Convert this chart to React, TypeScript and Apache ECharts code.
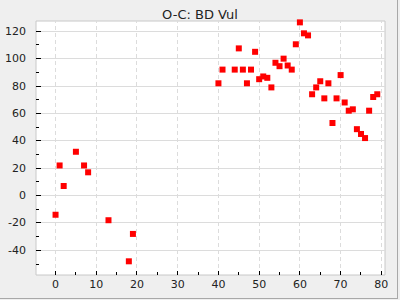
import React, { useEffect, useRef } from "react";
import * as echarts from "echarts";

const xValues = [0, 1, 2, 5, 7, 8, 13, 18, 19, 40, 41, 44, 45, 46, 47, 48, 49, 50, 51, 52, 53, 54, 55, 56, 57, 58, 59, 60, 61, 62, 63, 64, 65, 66, 67, 68, 69, 70, 71, 72, 73, 74, 75, 76, 77, 78, 79];
const yValues = [-14, 22, 7, 32, 22, 17, -18, -48, -28, 82, 92, 92, 107.5, 92, 82, 92, 105, 85, 87, 86, 79, 97, 94.5, 100, 95, 92, 110.5, 126.5, 118.5, 117, 74, 79, 83.5, 71, 82, 53, 71, 88, 68, 62, 63, 48.5, 45, 42, 62, 72, 74];
const xMajorTicks = [0, 10, 20, 30, 40, 50, 60, 70, 80];
const xMinorTicks = [5, 15, 25, 35, 45, 55, 65, 75];
const yMajorTicks = [-40, -20, 0, 20, 40, 60, 80, 100, 120];
const yMinorTicks = [-50, -30, -10, 10, 30, 50, 70, 90, 110];
const title = "O-C: BD Vul";

const X_MIN = -4.8;
const X_MAX = 80.9;
const Y_MIN = -58;
const Y_MAX = 127.5;

export default function App() {
  const ref = useRef<HTMLDivElement>(null);
  useEffect(() => {
    if (!ref.current) return;
    const chart = echarts.init(ref.current, null, { renderer: "svg" });
    const font = "DejaVu Sans";
    const gridColor = "#dcdcdc";
    const crisp = (v: number) => Math.round(v - 0.5) + 0.5;

    // vertical lines (grid or ticks) at x values, positioned through the x scale
    const vSeries = (vals: number[], color: string, dash: any, len: number | null, z: number) => ({
      type: "custom",
      silent: true,
      z,
      data: vals.map((v) => [v, Y_MIN]),
      renderItem: (params: any, api: any) => {
        const cs = params.coordSys;
        const x = crisp(api.coord([api.value(0), Y_MIN])[0]);
        const yBottom = cs.y + cs.height;
        const yTop = len == null ? cs.y : yBottom - len;
        return {
          type: "line",
          shape: { x1: x, y1: yBottom, x2: x, y2: yTop },
          style: { stroke: color, lineWidth: 1, lineDash: dash },
        };
      },
    });
    // horizontal lines (grid or ticks) at y values, positioned through the y scale
    const hSeries = (vals: number[], color: string, len: number | null, z: number) => ({
      type: "custom",
      silent: true,
      z,
      data: vals.map((v) => [X_MIN, v]),
      renderItem: (params: any, api: any) => {
        const cs = params.coordSys;
        const y = crisp(api.coord([X_MIN, api.value(1)])[1]);
        const xLeft = cs.x;
        const xRight = len == null ? cs.x + cs.width : cs.x + len;
        return {
          type: "line",
          shape: { x1: xLeft, y1: y, x2: xRight, y2: y },
          style: { stroke: color, lineWidth: 1 },
        };
      },
    });

    chart.setOption({
      animation: false,
      backgroundColor: "#efefef",
      textStyle: { fontFamily: font },
      title: {
        text: title,
        left: "center",
        top: 3,
        textStyle: { fontFamily: font, fontSize: 13, fontWeight: "normal", color: "#222" },
      },
      grid: {
        left: 36,
        top: 21,
        right: 15,
        bottom: 25,
        show: true,
        backgroundColor: "#ffffff",
        borderColor: "#c8c8c8",
        borderWidth: 1,
      },
      xAxis: {
        type: "value",
        min: X_MIN,
        max: X_MAX,
        axisLine: { show: false },
        axisTick: { show: false },
        splitLine: { show: false },
        axisLabel: { customValues: xMajorTicks, fontFamily: font, fontSize: 11, color: "#222", margin: 4 },
      },
      yAxis: {
        type: "value",
        min: Y_MIN,
        max: Y_MAX,
        axisLine: { show: false },
        axisTick: { show: false },
        splitLine: { show: false },
        axisLabel: { customValues: yMajorTicks, fontFamily: font, fontSize: 11, color: "#222", margin: 10 },
      },
      series: [
        vSeries(xMajorTicks, gridColor, [4, 3], null, 1),
        hSeries(yMajorTicks, gridColor, null, 1),
        vSeries(xMajorTicks, "#000", null, 4, 5),
        vSeries(xMinorTicks, "#000", null, 3, 5),
        hSeries(yMajorTicks, "#000", 5, 5),
        hSeries(yMinorTicks, "#000", 3, 5),
        {
          type: "scatter",
          z: 4,
          data: xValues.map((x, i) => [x, yValues[i]]),
          symbol: "rect",
          symbolSize: 6,
          itemStyle: { color: "#ff0000", opacity: 1 },
        },
      ],
      graphic: [
        { type: "line", shape: { x1: 397.5, y1: 0, x2: 397.5, y2: 299 }, style: { stroke: "#a8a8a8", lineWidth: 1 } },
        { type: "line", shape: { x1: 0, y1: 298.5, x2: 398, y2: 298.5 }, style: { stroke: "#a8a8a8", lineWidth: 1 } },
      ],
    });
    return () => chart.dispose();
  }, []);
  return <div ref={ref} style={{ position: "absolute", left: 0, top: 0, width: 400, height: 300 }} />;
}
